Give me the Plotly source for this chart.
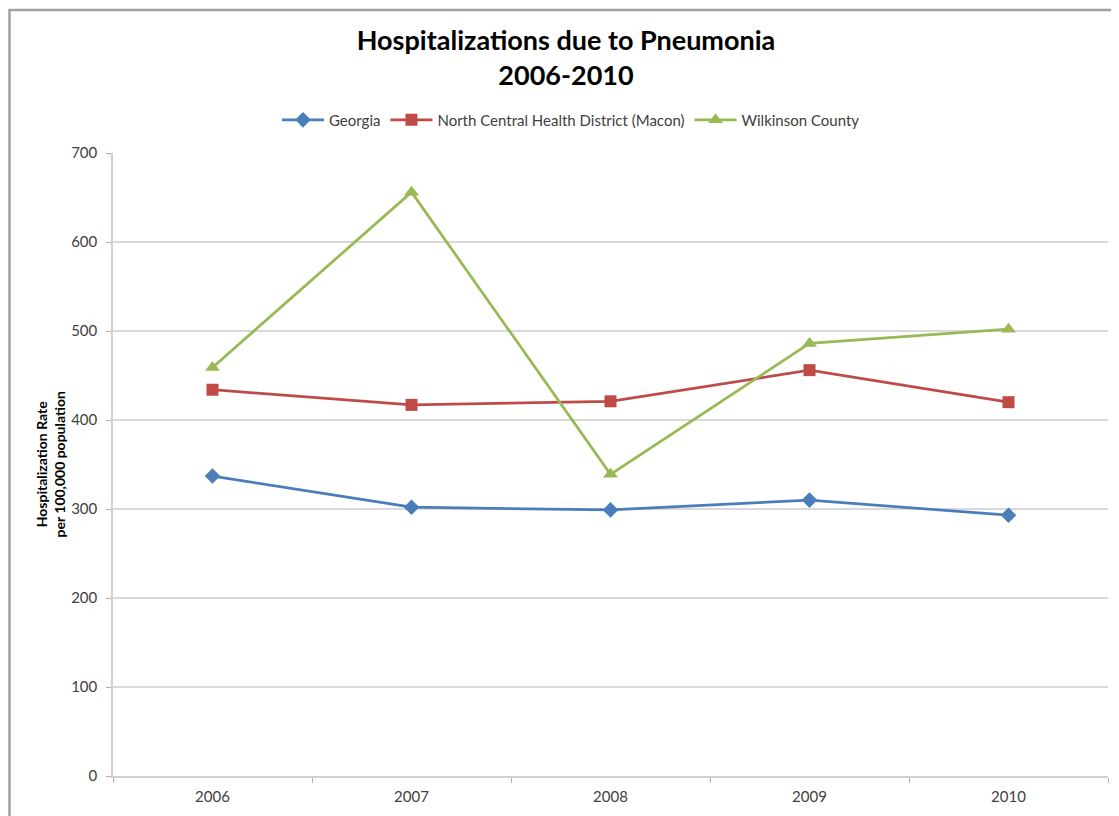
import plotly.graph_objects as go

years = ["2006", "2007", "2008", "2009", "2010"]
georgia = [337, 302, 299, 310, 293]
nchd = [434, 417, 421, 456, 420]
wilkinson = [459, 656, 339, 486, 502]

series_names = ["Georgia", "North Central Health District (Macon)", "Wilkinson County"]
y_ticks = [0, 100, 200, 300, 400, 500, 600, 700]

FONT = "Lato, 'Open Sans', Arial, sans-serif"

# page has an 8px body offset; figure sized so plot area lands where the reference has it
W, H = 1111, 808
ML, MR, MT, MB = 105, 11, 145, 38
PW, PH = W - ML - MR, H - MT - MB  # 995 x 625

fig = go.Figure()
fig.add_trace(go.Scatter(x=years, y=georgia, name=series_names[0], mode="lines+markers",
                         line=dict(color="#4A7EBB", width=2.75),
                         marker=dict(symbol="diamond", size=12, color="#4A7EBB")))
fig.add_trace(go.Scatter(x=years, y=nchd, name=series_names[1], mode="lines+markers",
                         line=dict(color="#BE4B48", width=2.75),
                         marker=dict(symbol="square", size=12, color="#BE4B48")))
fig.add_trace(go.Scatter(x=years, y=wilkinson, name=series_names[2], mode="lines+markers",
                         line=dict(color="#98B954", width=2.75),
                         marker=dict(symbol="triangle-up", size=13, color="#98B954")))

fig.update_layout(
    width=W, height=H,
    margin=dict(l=ML, r=MR, t=MT, b=MB),
    paper_bgcolor="white", plot_bgcolor="white",
    font=dict(family=FONT, size=15, color="#404040"),
    title=dict(text="<b>Hospitalizations due to Pneumonia<br>2006-2010</b>",
               x=(566 - 8) / W, xanchor="center", xref="container",
               y=1 - 42 / H, yanchor="top",
               font=dict(family=FONT, size=27, color="black")),
    legend=dict(orientation="h", x=(571 - 113) / PW, xanchor="center",
                y=1 + (153 - 120) / PH, yanchor="middle",
                font=dict(size=15, color="#404040"), itemwidth=42, traceorder="normal"),
    showlegend=True,
)

fig.update_xaxes(type="category", range=[-0.5, 4.5], showgrid=False,
                 showline=True, linecolor="#D0D0D0", linewidth=1.5,
                 ticks="outside", tickson="boundaries", ticklen=5, tickcolor="#B0B0B0",
                 ticklabelstandoff=6,
                 tickfont=dict(size=15, color="#404040"), fixedrange=True)
fig.update_yaxes(range=[0, 700], tickvals=y_ticks, showgrid=True, gridcolor="#D9D9D9", gridwidth=1.5,
                 showline=True, linecolor="#D0D0D0", linewidth=1.5,
                 ticks="outside", ticklen=5, tickcolor="#B0B0B0", ticklabelstandoff=6,
                 tickfont=dict(size=15, color="#404040"), zeroline=False, fixedrange=True)

fig.add_annotation(text="<b>Hospitalization Rate<br>per 100,000 population</b>",
                   xref="paper", yref="paper", x=(50 - 113) / PW, y=0.5,
                   xanchor="center", yanchor="middle", textangle=-90, showarrow=False,
                   font=dict(family=FONT, size=14, color="black"))

# chart frame (top and left edges visible)
fig.add_shape(type="rect", xref="paper", yref="paper",
              x0=(9.5 - 113) / PW, x1=1.2, y0=-0.3, y1=1 + (153 - 9.5) / PH,
              line=dict(color="#A0A0A0", width=2.5), layer="below")

fig.write_html("out.html")
